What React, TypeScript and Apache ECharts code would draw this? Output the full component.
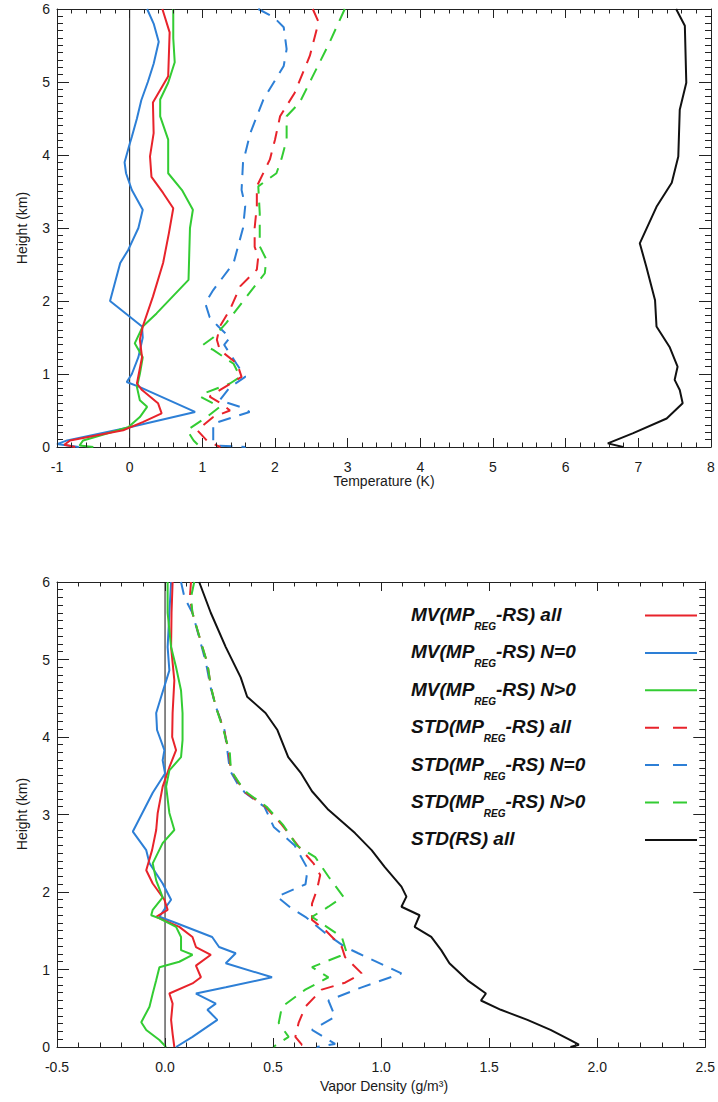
import React, { useEffect, useRef } from 'react';
import * as echarts from 'echarts';

type P = [number, number]; // [value, height km]

// ---------- axis ranges / ticks ----------
const tempRange: P = [-1, 8];
const vapRange: P = [-0.5, 2.5];
const heightRange: P = [0, 6];
const tempInterval = 1;
const vapInterval = 0.5;
const heightInterval = 1;
const tempMinorSplit = 5;
const vapMinorSplit = 5;
const heightMinorSplit = 10;

// ---------- axis titles ----------
const tempTitle = 'Temperature (K)';
const vapTitle = 'Vapor Density (g/m³)';
const heightTitle = 'Height (km)';

// ---------- Temperature panel (K) ----------
const tMvAll: P[] = [
  [0.45, 6.0], [0.55, 5.68], [0.53, 5.08], [0.32, 4.72], [0.33, 4.3], [0.28, 3.98], [0.3, 3.7],
  [0.46, 3.48], [0.6, 3.27], [0.54, 2.93], [0.46, 2.52], [0.32, 2.06], [0.18, 1.65], [0.14, 1.47],
  [0.17, 1.23], [0.1, 0.87], [0.17, 0.78], [0.39, 0.6], [0.44, 0.46], [0.18, 0.34], [-0.09, 0.23],
  [-0.82, 0.09], [-0.9, 0.03], [-0.75, 0.0],
];
const tMvN0: P[] = [
  [0.24, 6.0], [0.33, 5.8], [0.4, 5.55], [0.33, 5.25], [0.25, 5.0], [0.16, 4.75], [0.1, 4.5],
  [0.03, 4.25], [0.0, 4.15], [-0.07, 3.9], [-0.05, 3.75], [0.03, 3.52], [0.18, 3.25], [0.12, 3.0],
  [-0.02, 2.7], [-0.13, 2.52], [-0.27, 2.0], [0.17, 1.65], [0.18, 1.5], [0.12, 1.23], [0.03, 1.0],
  [-0.04, 0.89], [0.14, 0.82], [0.9, 0.48], [0.0, 0.27], [-0.86, 0.09], [-1.0, 0.04], [-0.7, 0.0],
];
const tMvN1: P[] = [
  [0.6, 6.0], [0.6, 5.6], [0.62, 5.27], [0.53, 4.99], [0.42, 4.76], [0.42, 4.53], [0.53, 4.21],
  [0.53, 3.75], [0.72, 3.52], [0.87, 3.25], [0.83, 3.0], [0.81, 2.29], [0.37, 1.83], [0.18, 1.65],
  [0.07, 1.42], [0.18, 1.23], [0.14, 1.0], [0.1, 0.82], [0.14, 0.64], [0.24, 0.55], [0.14, 0.41],
  [-0.02, 0.27], [-0.64, 0.09], [-0.69, 0.02], [-0.5, 0.0],
];
const tStdAll: P[] = [
  [2.52, 6.0], [2.6, 5.82], [2.48, 5.36], [2.27, 4.85], [2.07, 4.53], [2.0, 4.21], [1.93, 3.94],
  [1.75, 3.57], [1.75, 3.3], [1.72, 3.0], [1.72, 2.74], [1.77, 2.61], [1.75, 2.43], [1.52, 2.2],
  [1.38, 1.88], [1.24, 1.65], [1.2, 1.47], [1.24, 1.33], [1.48, 1.14], [1.54, 0.96], [1.24, 0.78],
  [1.1, 0.69], [1.27, 0.59], [1.38, 0.5], [1.15, 0.41], [0.93, 0.23], [1.06, 0.09], [1.2, 0.02],
  [1.25, 0.0],
];
const tStdN0: P[] = [
  [1.77, 6.0], [1.98, 5.89], [2.12, 5.75], [2.16, 5.45], [2.12, 5.22], [1.84, 4.76], [1.66, 4.3],
  [1.56, 3.9], [1.54, 3.52], [1.59, 3.3], [1.56, 3.0], [1.43, 2.52], [1.15, 2.15], [1.04, 1.97],
  [1.1, 1.78], [1.22, 1.65], [1.38, 1.5], [1.3, 1.4], [1.47, 1.14], [1.59, 0.96], [1.38, 0.82],
  [1.24, 0.64], [1.52, 0.55], [1.65, 0.48], [1.15, 0.32], [1.15, 0.09], [1.2, 0.02], [1.6, 0.0],
];
const tStdN1: P[] = [
  [2.96, 6.0], [2.75, 5.54], [2.52, 5.08], [2.34, 4.72], [2.16, 4.53], [2.16, 4.21], [2.09, 3.95],
  [2.02, 3.75], [1.77, 3.57], [1.79, 3.2], [1.79, 2.75], [1.88, 2.57], [1.86, 2.38], [1.61, 2.06],
  [1.33, 1.7], [1.15, 1.5], [1.01, 1.4], [1.15, 1.33], [1.43, 1.14], [1.52, 0.96], [1.38, 0.87],
  [1.01, 0.73], [0.97, 0.69], [1.24, 0.55], [1.06, 0.41], [0.79, 0.23], [0.88, 0.09], [0.97, 0.0],
];
const tStdRs: P[] = [
  [7.52, 6.0], [7.64, 5.77], [7.66, 4.99], [7.57, 4.62], [7.55, 3.98], [7.46, 3.62], [7.25, 3.29],
  [7.02, 2.79], [7.11, 2.47], [7.23, 2.01], [7.25, 1.65], [7.43, 1.37], [7.54, 1.1], [7.5, 0.92],
  [7.57, 0.78], [7.61, 0.6], [7.39, 0.39], [6.93, 0.19], [6.58, 0.05], [6.79, 0.0],
];

// ---------- Vapor density panel (g/m3) ----------
const vMvAll: P[] = [
  [0.035, 6.0], [0.03, 5.6], [0.028, 5.16], [0.043, 4.73], [0.035, 4.31], [0.033, 4.0], [0.051, 3.83],
  [0.02, 3.61], [-0.011, 3.36], [-0.034, 3.02], [-0.041, 2.8], [-0.06, 2.54], [-0.087, 2.28],
  [-0.057, 2.11], [-0.003, 1.9], [0.012, 1.77], [-0.041, 1.68], [0.066, 1.55], [0.127, 1.42],
  [0.143, 1.29], [0.212, 1.19], [0.143, 1.05], [0.166, 0.9], [0.127, 0.82], [0.02, 0.69],
  [0.035, 0.56], [0.028, 0.35], [0.035, 0.17], [0.043, 0.0],
];
const vMvN0: P[] = [
  [0.028, 6.0], [0.02, 5.6], [0.012, 5.16], [0.02, 4.86], [-0.018, 4.52], [-0.041, 4.31], [-0.037, 4.09],
  [-0.003, 3.83], [-0.011, 3.7], [0.0, 3.53], [-0.057, 3.28], [-0.149, 2.78], [-0.087, 2.54],
  [-0.072, 2.37], [-0.011, 2.11], [0.028, 1.9], [0.005, 1.81], [-0.026, 1.68], [0.051, 1.6],
  [0.218, 1.42], [0.25, 1.29], [0.327, 1.21], [0.281, 1.08], [0.495, 0.9], [0.281, 0.77],
  [0.143, 0.69], [0.235, 0.56], [0.196, 0.48], [0.242, 0.35], [0.127, 0.13], [0.051, 0.0],
];
const vMvN1: P[] = [
  [0.012, 6.0], [0.012, 5.6], [0.028, 5.16], [0.051, 4.9], [0.074, 4.6], [0.081, 4.31], [0.081, 3.96],
  [0.074, 3.74], [0.02, 3.57], [0.005, 3.36], [0.02, 3.02], [0.043, 2.8], [-0.011, 2.63],
  [-0.057, 2.37], [-0.041, 2.15], [-0.011, 1.93], [-0.057, 1.77], [-0.064, 1.7], [-0.026, 1.66],
  [0.051, 1.55], [0.074, 1.42], [0.074, 1.25], [0.127, 1.19], [0.066, 1.1], [-0.026, 1.03],
  [-0.041, 0.86], [-0.057, 0.69], [-0.072, 0.52], [-0.11, 0.32], [-0.087, 0.22], [-0.026, 0.09],
  [0.005, 0.0],
];
const vStdAll: P[] = [
  [0.12, 6.0], [0.115, 5.8], [0.127, 5.6], [0.173, 5.16], [0.196, 4.95], [0.212, 4.65], [0.235, 4.39],
  [0.273, 4.09], [0.296, 3.79], [0.304, 3.57], [0.342, 3.4], [0.373, 3.28], [0.465, 3.1], [0.54, 2.87],
  [0.62, 2.58], [0.687, 2.37], [0.718, 2.22], [0.703, 2.03], [0.68, 1.85], [0.68, 1.64], [0.741, 1.51],
  [0.818, 1.29], [0.833, 1.16], [0.91, 0.95], [0.833, 0.83], [0.725, 0.74], [0.649, 0.52],
  [0.618, 0.31], [0.603, 0.13], [0.633, 0.03], [0.6, 0.0],
];
const vStdN0: P[] = [
  [0.074, 6.0], [0.09, 5.8], [0.127, 5.6], [0.17, 5.16], [0.19, 4.95], [0.21, 4.65], [0.235, 4.39],
  [0.275, 4.09], [0.29, 3.79], [0.3, 3.57], [0.335, 3.4], [0.37, 3.28], [0.46, 3.1], [0.503, 2.84],
  [0.6, 2.6], [0.66, 2.3], [0.65, 2.1], [0.518, 1.94], [0.58, 1.8], [0.649, 1.68], [0.741, 1.47],
  [0.833, 1.29], [0.894, 1.21], [1.094, 0.95], [0.91, 0.77], [0.756, 0.6], [0.787, 0.39],
  [0.68, 0.22], [0.787, 0.04], [0.7, 0.0],
];
const vStdN1: P[] = [
  [0.135, 6.0], [0.12, 5.8], [0.127, 5.6], [0.173, 5.16], [0.196, 4.95], [0.212, 4.65], [0.235, 4.39],
  [0.27, 4.09], [0.3, 3.79], [0.305, 3.57], [0.345, 3.4], [0.38, 3.28], [0.47, 3.1], [0.545, 2.87],
  [0.61, 2.6], [0.695, 2.45], [0.756, 2.2], [0.825, 1.94], [0.756, 1.81], [0.68, 1.68], [0.818, 1.42],
  [0.841, 1.21], [0.68, 1.03], [0.756, 0.9], [0.649, 0.74], [0.541, 0.52], [0.526, 0.31],
  [0.572, 0.13], [0.5, 0.0],
];
const vStdRs: P[] = [
  [0.158, 6.0], [0.212, 5.6], [0.281, 5.16], [0.35, 4.77], [0.38, 4.52], [0.465, 4.31], [0.52, 4.09],
  [0.57, 3.74], [0.63, 3.53], [0.68, 3.3], [0.756, 3.06], [0.879, 2.76], [0.956, 2.54], [1.017, 2.32],
  [1.094, 2.07], [1.117, 1.94], [1.094, 1.81], [1.178, 1.7], [1.155, 1.55], [1.232, 1.42],
  [1.278, 1.25], [1.316, 1.08], [1.4, 0.86], [1.485, 0.69], [1.462, 0.6], [1.554, 0.48],
  [1.677, 0.35], [1.784, 0.22], [1.876, 0.09], [1.915, 0.03], [1.876, 0.0],
];

const zeroLine: P[] = [[0, 0], [0, 6]];

// ---------- legend ----------
const legendPre = ['MV(MP', 'MV(MP', 'MV(MP', 'STD(MP', 'STD(MP', 'STD(MP', 'STD(RS) all'];
const legendSub = ['REG', 'REG', 'REG', 'REG', 'REG', 'REG', ''];
const legendPost = ['-RS) all', '-RS) N=0', '-RS) N>0', '-RS) all', '-RS) N=0', '-RS) N>0', ''];

const RED = '#e8232b';
const BLUE = '#2d7fd6';
const GREEN = '#33cc33';
const BLACK = '#111111';
const AXIS = '#222222';
const TXT = '#1a1a1a';
const FONT = '"Liberation Sans", Arial, Helvetica, sans-serif';

const legendColors = [RED, BLUE, GREEN, RED, BLUE, GREEN, BLACK];
const legendDashed = [false, false, false, true, true, true, false];

// tick positions along an axis: [position, 1 = major / 0 = minor]
function tickList(range: P, interval: number, minorSplit: number): [number, number][] {
  const out: [number, number][] = [];
  const nMajor = Math.round((range[1] - range[0]) / interval);
  for (let i = 0; i <= nMajor; i++) {
    const m = range[0] + i * interval;
    out.push([+m.toFixed(6), 1]);
    if (i < nMajor) {
      for (let k = 1; k < minorSplit; k++) {
        out.push([+(m + (k * interval) / minorSplit).toFixed(6), 0]);
      }
    }
  }
  return out;
}

export default function App() {
  const ref = useRef<HTMLDivElement>(null);

  useEffect(() => {
    if (!ref.current) return;
    const chart = echarts.init(ref.current, undefined, { renderer: 'svg' });

    const xAx = (gridIndex: number, range: P, interval: number, position: string, fmt?: (v: number) => string) => {
      const label: any = {
        show: position === 'bottom',
        fontFamily: FONT,
        fontSize: 14,
        color: TXT,
        margin: 13,
      };
      if (fmt) label.formatter = fmt;
      return {
        type: 'value',
        gridIndex,
        position,
        min: range[0],
        max: range[1],
        interval,
        axisLine: { show: true, onZero: false, lineStyle: { color: AXIS } },
        axisTick: { show: false },
        minorTick: { show: false },
        splitLine: { show: false },
        axisLabel: label,
      };
    };

    const yAx = (gridIndex: number, position: string) => ({
      type: 'value',
      gridIndex,
      position,
      min: heightRange[0],
      max: heightRange[1],
      interval: heightInterval,
      axisLine: { show: true, onZero: false, lineStyle: { color: AXIS } },
      axisTick: { show: false },
      minorTick: { show: false },
      splitLine: { show: false },
      axisLabel: { show: position === 'left', fontFamily: FONT, fontSize: 14, color: TXT, margin: 7 },
    });

    const oneDec = (v: number) => v.toFixed(1);

    const mk = (data: P[], color: string, dashed: boolean, xi: number, yi: number, width = 2) => ({
      type: 'line',
      data,
      xAxisIndex: xi,
      yAxisIndex: yi,
      symbol: 'none',
      showSymbol: false,
      silent: true,
      z: 3,
      lineStyle: { color, width, type: dashed ? [13, 9] : 'solid' },
      itemStyle: { color },
    });

    const crisp = (v: number) => Math.round(v - 0.5) + 0.5;

    // inward ticks on bottom and top of a panel, placed through the axis scale
    const xTickSeries = (xi: number, yi: number, range: P, interval: number, split: number, majorLen: number) => ({
      type: 'custom',
      xAxisIndex: xi,
      yAxisIndex: yi,
      silent: true,
      clip: false,
      z: 5,
      data: tickList(range, interval, split).map((t) => [t[0], t[1]]),
      renderItem: (params: any, api: any) => {
        const v = api.value(0);
        const major = api.value(1) === 1;
        const len = major ? majorLen : majorLen / 2;
        const pb = api.coord([v, heightRange[0]]);
        const pt = api.coord([v, heightRange[1]]);
        const x = crisp(pb[0]);
        return {
          type: 'group',
          children: [
            { type: 'line', shape: { x1: x, y1: pb[1], x2: x, y2: pb[1] - len }, style: { stroke: AXIS, lineWidth: 1 } },
            { type: 'line', shape: { x1: x, y1: pt[1], x2: x, y2: pt[1] + len }, style: { stroke: AXIS, lineWidth: 1 } },
          ],
        };
      },
    });

    // inward ticks on left and right of a panel
    const yTickSeries = (xi: number, yi: number, xr: P, majorLen: number) => ({
      type: 'custom',
      xAxisIndex: xi,
      yAxisIndex: yi,
      silent: true,
      clip: false,
      z: 5,
      data: tickList(heightRange, heightInterval, heightMinorSplit).map((t) => [t[1], t[0]]),
      renderItem: (params: any, api: any) => {
        const major = api.value(0) === 1;
        const h = api.value(1);
        const len = major ? majorLen : majorLen / 2;
        const pl = api.coord([xr[0], h]);
        const pr = api.coord([xr[1], h]);
        const y = crisp(pl[1]);
        return {
          type: 'group',
          children: [
            { type: 'line', shape: { x1: pl[0], y1: y, x2: pl[0] + len, y2: y }, style: { stroke: AXIS, lineWidth: 1 } },
            { type: 'line', shape: { x1: pr[0], y1: y, x2: pr[0] - len, y2: y }, style: { stroke: AXIS, lineWidth: 1 } },
          ],
        };
      },
    });

    const graphics: any[] = [];
    const titleStyle = (text: string) => ({
      text,
      align: 'center',
      verticalAlign: 'middle',
      fill: TXT,
      fontFamily: FONT,
      fontSize: 14,
    });
    graphics.push({ type: 'text', x: 384, y: 481, silent: true, style: titleStyle(tempTitle) });
    graphics.push({ type: 'text', x: 384, y: 1086, silent: true, style: titleStyle(vapTitle) });
    graphics.push({ type: 'text', x: 22, y: 228, rotation: Math.PI / 2, silent: true, style: titleStyle(heightTitle) });
    graphics.push({ type: 'text', x: 22, y: 814, rotation: Math.PI / 2, silent: true, style: titleStyle(heightTitle) });

    const rowY0 = 614.5;
    const rowStep = 37.4;
    legendPre.forEach((pre, i) => {
      const y = rowY0 + i * rowStep;
      const text = legendSub[i]
        ? `{m|${pre}}{s|${legendSub[i]}}{m|${legendPost[i]}}`
        : `{m|${pre}}`;
      graphics.push({
        type: 'text',
        x: 411,
        y,
        silent: true,
        style: {
          text,
          align: 'left',
          verticalAlign: 'middle',
          fill: '#111',
          rich: {
            m: { fontFamily: FONT, fontSize: 19, fontWeight: 'bold', fontStyle: 'italic', fill: '#111', verticalAlign: 'middle' },
            s: { fontFamily: FONT, fontSize: 10, fontWeight: 'bold', fontStyle: 'italic', fill: '#111', verticalAlign: 'middle', padding: [24, 0, 0, 0] },
          },
        },
      });
      const ls: any = { stroke: legendColors[i], lineWidth: 2 };
      if (legendDashed[i]) ls.lineDash = [14, 14];
      graphics.push({
        type: 'line',
        silent: true,
        shape: { x1: 645, y1: y + 1, x2: legendDashed[i] ? 693 : 697, y2: y + 1 },
        style: ls,
      });
    });

    const option: any = {
      animation: false,
      grid: [
        { left: 57, top: 9, right: 7, height: 438 },
        { left: 57, top: 582, right: 8, height: 465 },
      ],
      xAxis: [
        xAx(0, tempRange, tempInterval, 'bottom'),
        xAx(0, tempRange, tempInterval, 'top'),
        xAx(1, vapRange, vapInterval, 'bottom', oneDec),
        xAx(1, vapRange, vapInterval, 'top'),
      ],
      yAxis: [yAx(0, 'left'), yAx(0, 'right'), yAx(1, 'left'), yAx(1, 'right')],
      graphic: graphics,
      series: [
        xTickSeries(0, 0, tempRange, tempInterval, tempMinorSplit, 9),
        yTickSeries(0, 0, tempRange, 12),
        xTickSeries(2, 2, vapRange, vapInterval, vapMinorSplit, 9),
        yTickSeries(2, 2, vapRange, 12),

        mk(zeroLine, BLACK, false, 0, 0, 1),
        mk(tStdRs, BLACK, false, 0, 0, 2),
        mk(tStdN0, BLUE, true, 0, 0),
        mk(tStdN1, GREEN, true, 0, 0),
        mk(tStdAll, RED, true, 0, 0),
        mk(tMvN0, BLUE, false, 0, 0),
        mk(tMvN1, GREEN, false, 0, 0),
        mk(tMvAll, RED, false, 0, 0),

        mk(zeroLine, BLACK, false, 2, 2, 1),
        mk(vStdRs, BLACK, false, 2, 2, 2),
        mk(vStdN0, BLUE, true, 2, 2),
        mk(vStdAll, RED, true, 2, 2),
        mk(vStdN1, GREEN, true, 2, 2),
        mk(vMvN0, BLUE, false, 2, 2),
        mk(vMvAll, RED, false, 2, 2),
        mk(vMvN1, GREEN, false, 2, 2),
      ],
    };

    chart.setOption(option);
    return () => chart.dispose();
  }, []);

  return <div ref={ref} style={{ position: 'absolute', left: 0, top: 0, width: 718, height: 1102 }} />;
}
